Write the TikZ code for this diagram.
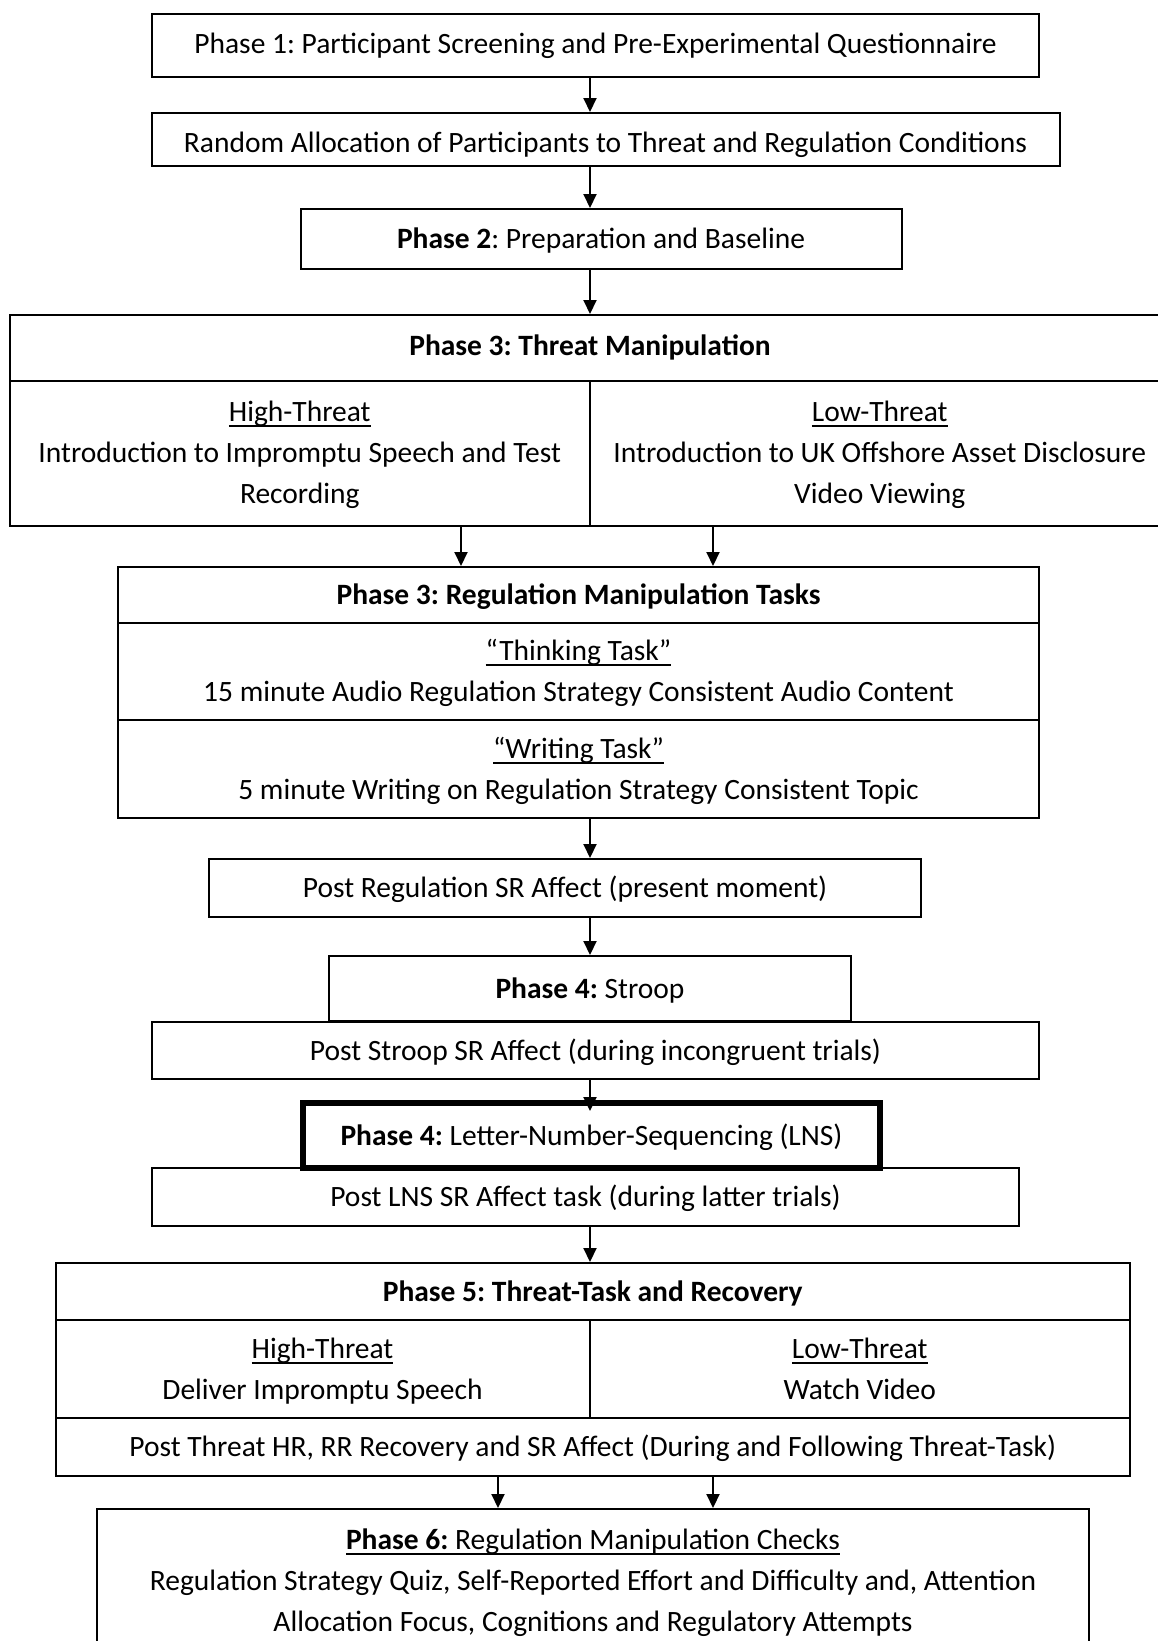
\documentclass[tikz,border=0pt]{standalone}
\usepackage{fontspec}
\setmainfont{Carlito}
\usetikzlibrary{arrows.meta,calc}
\newsavebox\myulbox
\newcommand\myul[1]{\sbox\myulbox{#1}\rlap{\rule[-5.5pt]{\wd\myulbox}{2pt}}\usebox\myulbox}
\tikzset{
  box/.style={draw, line width=2pt, inner sep=0pt, align=center, anchor=center, text depth=2pt},
  one/.style={box, text height=21pt, text depth=2pt},
  arr/.style={line width=2pt, -{Triangle[length=14pt,width=13pt]}},
}
\begin{document}
\begin{tikzpicture}[x=1pt,y=-1pt,font=\frenchspacing\fontsize{29.5}{41}\selectfont]
\useasboundingbox (0,0) rectangle (1158,1641);
\coordinate (ax) at (590,0);
\coordinate (lx) at (461,0);
\coordinate (rx) at (713,0);
\coordinate (lx2) at (498,0);
% boxes
\node[one, minimum width=887pt, minimum height=63pt, text height=17pt] (b1) at (595.5,45.5) {Phase 1: Participant Screening and Pre-Experimental Questionnaire};
\node[one, minimum width=908pt, minimum height=53pt, text height=25pt, text depth=0pt] (b2) at (605.5,139.5) {Random Allocation of Participants to Threat and Regulation Conditions};
\node[one, minimum width=601pt, minimum height=60pt] (b3) at (601,239) {\textbf{Phase 2}: Preparation and Baseline};
% phase 3 threat
\node[one, minimum width=1160pt, minimum height=66pt, text height=17pt] (p3head) at (590,348) {\textbf{Phase 3: Threat Manipulation}};
\node[box, minimum width=579.5pt, minimum height=145pt] (p3high) at (299.75,453.5) {\myul{High-Threat}\\Introduction to Impromptu Speech and Test\\Recording};
\node[box, minimum width=580.5pt, minimum height=145pt] (p3low) at (879.75,453.5) {\myul{Low-Threat}\\Introduction to UK Offshore Asset Disclosure\\Video Viewing};
% regulation
\node[one, minimum width=921pt, minimum height=56pt] (rhead) at (578.5,595) {\textbf{Phase 3: Regulation Manipulation Tasks}};
\node[box, minimum width=921pt, minimum height=97pt] (rthink) at (578.5,671.5) {\myul{“Thinking Task”}\\15 minute Audio Regulation Strategy Consistent Audio Content};
\node[box, minimum width=921pt, minimum height=98pt] (rwrite) at (578.5,769) {\myul{“Writing Task”}\\5 minute Writing on Regulation Strategy Consistent Topic};
% post regulation etc
\node[one, minimum width=712pt, minimum height=58pt] (preg) at (565,888) {Post Regulation SR Affect (present moment)};
\node[one, minimum width=522pt, minimum height=65pt] (stroop) at (590,988.5) {\textbf{Phase 4:} Stroop};
\node[one, minimum width=887pt, minimum height=57pt] (pstroop) at (595.5,1050.5) {Post Stroop SR Affect (during incongruent trials)};
\node[one, minimum width=867pt, minimum height=58pt] (plns) at (585.5,1197) {Post LNS SR Affect task (during latter trials)};
\node[one, line width=6pt, fill=white, minimum width=577pt, minimum height=65pt] (lns) at (591.5,1135.5) {\textbf{Phase 4:} Letter-Number-Sequencing (LNS)};
% phase 5
\node[one, minimum width=1074.5pt, minimum height=57pt] (p5head) at (592.75,1291.5) {\textbf{Phase 5: Threat-Task and Recovery}};
\node[box, minimum width=534pt, minimum height=98pt, text depth=0pt] (p5high) at (322.5,1369) {\myul{High-Threat}\\Deliver Impromptu Speech};
\node[box, minimum width=540.5pt, minimum height=98pt, text depth=0pt] (p5low) at (859.75,1369) {\myul{Low-Threat}\\Watch Video};
\node[one, minimum width=1074.5pt, minimum height=58pt] (p5bot) at (592.75,1447) {Post Threat HR, RR Recovery and SR Affect (During and Following Threat-Task)};
% phase 6
\node[box, minimum width=992pt, minimum height=171pt] (p6) at (593,1594.5) {};
\node[align=center, inner sep=0pt] (p6text) at (593,1583) {\myul{\textbf{Phase 6:} Regulation Manipulation Checks}\\Regulation Strategy Quiz, Self-Reported Effort and Difficulty and, Attention\\Allocation Focus, Cognitions and Regulatory Attempts};
% arrows
\draw[arr] (b1.south -| ax) -- (b2.north -| ax);
\draw[arr] (b2.south -| ax) -- (b3.north -| ax);
\draw[arr] (b3.south -| ax) -- (p3head.north -| ax);
\draw[arr] (p3high.south -| lx) -- (rhead.north -| lx);
\draw[arr] (p3low.south -| rx) -- (rhead.north -| rx);
\draw[arr] (rwrite.south -| ax) -- (preg.north -| ax);
\draw[arr] (preg.south -| ax) -- (stroop.north -| ax);
\draw[arr] (pstroop.south -| ax) -- ($(lns.north -| ax)+(0,11)$);
\draw[arr] (plns.south -| ax) -- (p5head.north -| ax);
\draw[arr] (p5bot.south -| lx2) -- (p6.north -| lx2);
\draw[arr] (p5bot.south -| rx) -- (p6.north -| rx);
\end{tikzpicture}
\end{document}
